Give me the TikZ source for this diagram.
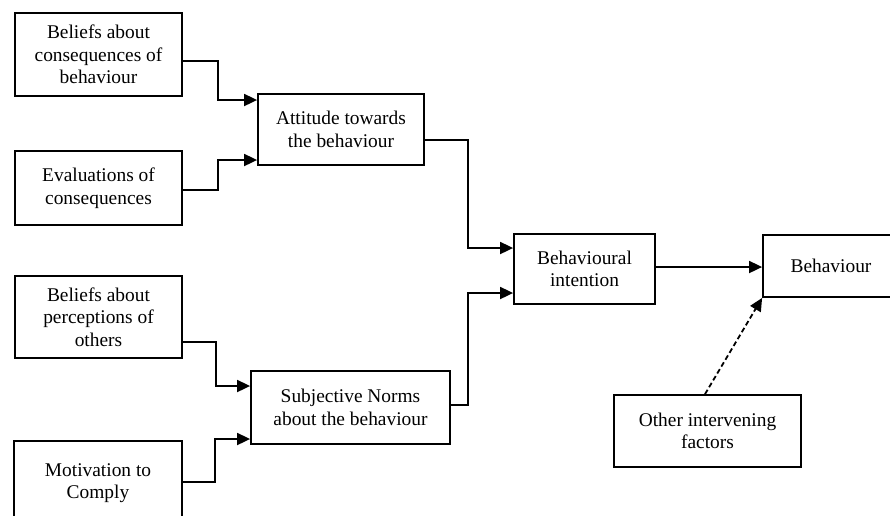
\documentclass[tikz,border=0pt]{standalone}
\usepackage{fontspec}
\setmainfont{Liberation Serif}
\usetikzlibrary{arrows.meta,calc}

\tikzset{
  box/.style={draw=black, line width=1.8pt, fill=white, inner sep=0pt,
    align=center, font=\fontsize{19.4}{22.5}\selectfont},
  conn/.style={line width=1.8pt, -{Triangle[length=13pt,width=12pt]}},
  dconn/.style={conn, dash pattern=on 5pt off 3pt}
}

\begin{document}
\begin{tikzpicture}[x=1pt, y=-1pt]
  \useasboundingbox (0,0) rectangle (890,515);
  \clip (0,0) rectangle (890,515);
  \fill[white] (0,0) rectangle (890,515);

  % input beliefs and evaluations
  \node[box, minimum width=167pt, minimum height=83pt] (b1) at (98.5,54.5)
    {Beliefs about\\consequences of\\behaviour};
  \node[box, minimum width=167pt, minimum height=74pt] (b2) at (98.5,188)
    {Evaluations of\\consequences};
  \node[box, minimum width=167pt, minimum height=82pt] (b4) at (98.5,317)
    {Beliefs about\\perceptions of\\others};
  \node[box, minimum width=168pt, minimum height=84pt] (b5) at (98,483)
    {Motivation to\\Comply};

  % intermediate constructs
  \node[box, minimum width=166pt, minimum height=71pt] (b3) at (341,129.5)
    {Attitude towards\\the behaviour};
  \node[box, minimum width=199pt, minimum height=73pt] (b6) at (350.5,407.5)
    {Subjective Norms\\about the behaviour};

  % intention and behaviour
  \node[box, minimum width=141pt, minimum height=70pt] (b7) at (584.5,269)
    {Behavioural\\intention};
  \node[box, minimum width=136pt, minimum height=62pt] (b8) at (831,266)
    {Behaviour};
  \node[box, minimum width=187pt, minimum height=72pt] (b9) at (707.5,431)
    {Other intervening\\factors};

  % connectors into the attitude box
  \draw[conn] ($(b1.east)+(0,6.5)$) -| ($(b3.west)+(-39,-29.5)$) -- ($(b3.west)+(0,-29.5)$);
  \draw[conn] ($(b2.east)+(0,2)$) -| ($(b3.west)+(-39,30.5)$) -- ($(b3.west)+(0,30.5)$);

  % connectors into the subjective norms box
  \draw[conn] ($(b4.east)+(0,25)$) -| ($(b6.west)+(-34,-21.5)$) -- ($(b6.west)+(0,-21.5)$);
  \draw[conn] ($(b5.east)+(0,-1)$) -| ($(b6.west)+(-35,31.5)$) -- ($(b6.west)+(0,31.5)$);

  % connectors into behavioural intention
  \draw[conn] ($(b3.east)+(0,10.5)$) -| ($(b7.west)+(-45,-21)$) -- ($(b7.west)+(0,-21)$);
  \draw[conn] ($(b6.east)+(0,-2.5)$) -| ($(b7.west)+(-45,24)$) -- ($(b7.west)+(0,24)$);

  % intention to behaviour
  \draw[conn] ($(b7.east)+(0,-2)$) coordinate (ie) -- (ie -| b8.west);

  % other factors (dashed)
  \draw[dconn] ($(b9.north)+(-2.5,0)$) -- (b8.south west);
\end{tikzpicture}
\end{document}
